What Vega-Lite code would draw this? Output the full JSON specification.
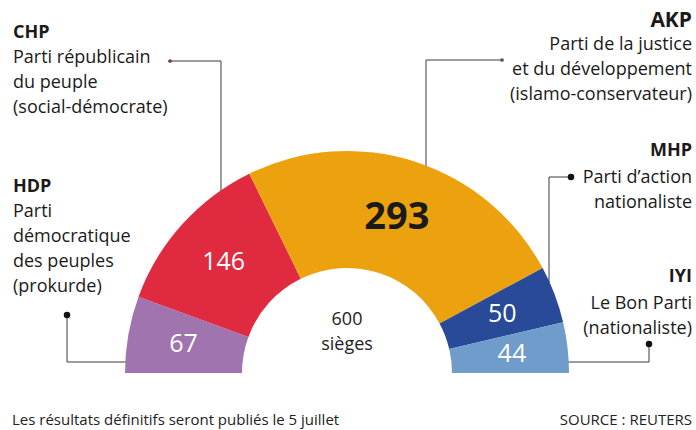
{
  "$schema": "https://vega.github.io/schema/vega-lite/v6.json",
  "width": 696,
  "height": 373,
  "autosize": {"type": "none"},
  "padding": {"left": 0, "top": 0, "right": 0, "bottom": 57},
  "background": "#ffffff",
  "config": {"view": {"stroke": null}, "font": "Open Sans"},
  "datasets": {
    "partis": [
      {"party": "HDP", "seats": 67, "ordre": 1, "nom": "Parti\ndémocratique\ndes peuples\n(prokurde)"},
      {"party": "CHP", "seats": 146, "ordre": 2, "nom": "Parti républicain\ndu peuple\n(social-démocrate)"},
      {"party": "AKP", "seats": 293, "ordre": 3, "nom": "Parti de la justice\net du développement\n(islamo-conservateur)"},
      {"party": "MHP", "seats": 50, "ordre": 4, "nom": "Parti d’action\nnationaliste"},
      {"party": "IYI", "seats": 44, "ordre": 5, "nom": "Le Bon Parti\n(nationaliste)"}
    ],
    "reperes": [
      {"party": "HDP", "etape": 0}, {"party": "HDP", "etape": 1}, {"party": "HDP", "etape": 2},
      {"party": "CHP", "etape": 0}, {"party": "CHP", "etape": 1}, {"party": "CHP", "etape": 2},
      {"party": "AKP", "etape": 0}, {"party": "AKP", "etape": 1}, {"party": "AKP", "etape": 2},
      {"party": "MHP", "etape": 0}, {"party": "MHP", "etape": 1}, {"party": "MHP", "etape": 2},
      {"party": "IYI", "etape": 0}, {"party": "IYI", "etape": 1}, {"party": "IYI", "etape": 2}
    ]
  },
  "resolve": {"scale": {"x": "independent", "y": "independent"}},
  "layer": [
    {
      "data": {"name": "reperes"},
      "transform": [{"filter": "datum.party === 'CHP'"}],
      "encoding": {
        "x": {"field": "etape", "type": "quantitative", "axis": null, "scale": {"domain": [0, 1, 2], "range": [170, 221, 221], "nice": false, "zero": false}},
        "y": {"field": "etape", "type": "quantitative", "axis": null, "scale": {"domain": [0, 1, 2], "range": [61, 61, 195], "nice": false, "zero": false}}
      },
      "layer": [
        {"mark": {"type": "line", "color": "#3a3a3a", "strokeWidth": 1}, "encoding": {"order": {"field": "etape", "type": "quantitative"}}},
        {"transform": [{"filter": "datum.etape === 0"}], "mark": {"type": "point", "filled": true, "color": "#6a3a3f", "size": 14, "opacity": 1}}
      ]
    },
    {
      "data": {"name": "reperes"},
      "transform": [{"filter": "datum.party === 'AKP'"}],
      "encoding": {
        "x": {"field": "etape", "type": "quantitative", "axis": null, "scale": {"domain": [0, 1, 2], "range": [502, 426, 426], "nice": false, "zero": false}},
        "y": {"field": "etape", "type": "quantitative", "axis": null, "scale": {"domain": [0, 1, 2], "range": [60, 60, 170], "nice": false, "zero": false}}
      },
      "layer": [
        {"mark": {"type": "line", "color": "#3a3a3a", "strokeWidth": 1}, "encoding": {"order": {"field": "etape", "type": "quantitative"}}},
        {"transform": [{"filter": "datum.etape === 0"}], "mark": {"type": "point", "filled": true, "color": "#555555", "size": 14, "opacity": 1}}
      ]
    },
    {
      "data": {"name": "reperes"},
      "transform": [{"filter": "datum.party === 'MHP'"}],
      "encoding": {
        "x": {"field": "etape", "type": "quantitative", "axis": null, "scale": {"domain": [0, 1, 2], "range": [571, 549, 549], "nice": false, "zero": false}},
        "y": {"field": "etape", "type": "quantitative", "axis": null, "scale": {"domain": [0, 1, 2], "range": [177, 177, 285], "nice": false, "zero": false}}
      },
      "layer": [
        {"mark": {"type": "line", "color": "#3a3a3a", "strokeWidth": 1}, "encoding": {"order": {"field": "etape", "type": "quantitative"}}},
        {"transform": [{"filter": "datum.etape === 0"}], "mark": {"type": "point", "filled": true, "color": "#111111", "size": 42, "opacity": 1}}
      ]
    },
    {
      "data": {"name": "reperes"},
      "transform": [{"filter": "datum.party === 'HDP'"}],
      "encoding": {
        "x": {"field": "etape", "type": "quantitative", "axis": null, "scale": {"domain": [0, 1, 2], "range": [67, 67, 130], "nice": false, "zero": false}},
        "y": {"field": "etape", "type": "quantitative", "axis": null, "scale": {"domain": [0, 1, 2], "range": [315, 362, 362], "nice": false, "zero": false}}
      },
      "layer": [
        {"mark": {"type": "line", "color": "#3a3a3a", "strokeWidth": 1}, "encoding": {"order": {"field": "etape", "type": "quantitative"}}},
        {"transform": [{"filter": "datum.etape === 0"}], "mark": {"type": "point", "filled": true, "color": "#111111", "size": 42, "opacity": 1}}
      ]
    },
    {
      "data": {"name": "reperes"},
      "transform": [{"filter": "datum.party === 'IYI'"}],
      "encoding": {
        "x": {"field": "etape", "type": "quantitative", "axis": null, "scale": {"domain": [0, 1, 2], "range": [649, 649, 563], "nice": false, "zero": false}},
        "y": {"field": "etape", "type": "quantitative", "axis": null, "scale": {"domain": [0, 1, 2], "range": [344, 362, 362], "nice": false, "zero": false}}
      },
      "layer": [
        {"mark": {"type": "line", "color": "#3a3a3a", "strokeWidth": 1}, "encoding": {"order": {"field": "etape", "type": "quantitative"}}},
        {"transform": [{"filter": "datum.etape === 0"}], "mark": {"type": "point", "filled": true, "color": "#111111", "size": 42, "opacity": 1}}
      ]
    },
    {
      "data": {"name": "partis"},
      "mark": {"type": "arc", "radius": 222, "radius2": 105, "x": {"expr": "width / 2 - 1"}, "y": {"expr": "height"}},
      "encoding": {
        "theta": {"field": "seats", "type": "quantitative", "stack": true, "scale": {"range": [-1.5707963, 1.5707963]}},
        "order": {"field": "ordre", "type": "quantitative", "sort": "ascending"},
        "color": {"field": "party", "type": "nominal", "legend": null, "scale": {"domain": ["HDP", "CHP", "AKP", "MHP", "IYI"], "range": ["#a074ae", "#e02a40", "#eba20e", "#284a98", "#709ccc"]}}
      }
    },
    {
      "data": {"name": "partis"},
      "mark": {"type": "text", "radius": 166, "x": {"expr": "width / 2 - 1"}, "y": {"expr": "height"}, "font": "Open Sans", "fontSize": 25, "color": "#ffffff", "align": "center", "baseline": "middle"},
      "encoding": {
        "theta": {"field": "seats", "type": "quantitative", "stack": true},
        "order": {"field": "ordre", "type": "quantitative", "sort": "ascending"},
        "detail": {"field": "party", "type": "nominal"},
        "text": {"field": "seats", "type": "quantitative"},
        "opacity": {"condition": {"test": "datum.party === 'AKP'", "value": 0}, "value": 1}
      }
    },
    {
      "data": {"name": "partis"},
      "mark": {"type": "text", "radius": 163, "x": {"expr": "width / 2 - 1"}, "y": {"expr": "height"}, "font": "Open Sans", "fontSize": 38, "fontWeight": "bold", "color": "#1a1a1a", "align": "center", "baseline": "middle"},
      "encoding": {
        "theta": {"field": "seats", "type": "quantitative", "stack": true},
        "order": {"field": "ordre", "type": "quantitative", "sort": "ascending"},
        "detail": {"field": "party", "type": "nominal"},
        "text": {"field": "seats", "type": "quantitative"},
        "opacity": {"condition": {"test": "datum.party === 'AKP'", "value": 1}, "value": 0}
      }
    },
    {
      "data": {"name": "partis"},
      "transform": [{"aggregate": [{"op": "sum", "field": "seats", "as": "total"}]}],
      "layer": [
        {
          "mark": {"type": "text", "x": {"expr": "width / 2 - 1"}, "y": {"expr": "height - 53"}, "font": "Open Sans", "fontSize": 18, "color": "#222222", "align": "center", "baseline": "middle"},
          "encoding": {"text": {"field": "total", "type": "quantitative"}}
        },
        {
          "mark": {"type": "text", "x": {"expr": "width / 2 - 1"}, "y": {"expr": "height - 28"}, "font": "Open Sans", "fontSize": 18, "color": "#222222", "align": "center", "baseline": "middle"},
          "encoding": {"text": {"value": "sièges"}}
        }
      ]
    },
    {
      "data": {"name": "partis"},
      "transform": [{"filter": "datum.ordre <= 2"}],
      "mark": {"type": "text", "font": "Open Sans", "fontSize": 18, "fontWeight": "bold", "color": "#1a1a1a", "align": "left", "baseline": "alphabetic"},
      "encoding": {
        "x": {"field": "ordre", "type": "quantitative", "axis": null, "scale": {"domain": [1, 2], "range": [13, 13], "nice": false, "zero": false}},
        "y": {"field": "ordre", "type": "quantitative", "axis": null, "scale": {"domain": [1, 2], "range": [192, 38], "nice": false, "zero": false}},
        "text": {"field": "party", "type": "nominal"}
      }
    },
    {
      "data": {"name": "partis"},
      "transform": [{"filter": "datum.ordre <= 2"}],
      "mark": {"type": "text", "font": "Open Sans", "fontSize": 18, "color": "#1a1a1a", "align": "left", "baseline": "alphabetic", "lineBreak": "\n", "lineHeight": 25},
      "encoding": {
        "x": {"field": "ordre", "type": "quantitative", "axis": null, "scale": {"domain": [1, 2], "range": [13, 13], "nice": false, "zero": false}},
        "y": {"field": "ordre", "type": "quantitative", "axis": null, "scale": {"domain": [1, 2], "range": [217, 63], "nice": false, "zero": false}},
        "text": {"field": "nom", "type": "nominal"}
      }
    },
    {
      "data": {"name": "partis"},
      "transform": [{"filter": "datum.ordre >= 3"}],
      "mark": {"type": "text", "font": "Open Sans", "fontWeight": "bold", "color": "#1a1a1a", "align": "right", "baseline": "alphabetic"},
      "encoding": {
        "x": {"field": "ordre", "type": "quantitative", "axis": null, "scale": {"domain": [3, 5], "range": [692, 692], "nice": false, "zero": false}},
        "y": {"field": "ordre", "type": "quantitative", "axis": null, "scale": {"domain": [3, 4, 5], "range": [27, 156, 282], "nice": false, "zero": false}},
        "text": {"field": "party", "type": "nominal"},
        "size": {"condition": {"test": "datum.party === 'AKP'", "value": 21}, "value": 18}
      }
    },
    {
      "data": {"name": "partis"},
      "transform": [{"filter": "datum.ordre >= 3"}],
      "mark": {"type": "text", "font": "Open Sans", "fontSize": 18, "color": "#1a1a1a", "align": "right", "baseline": "alphabetic", "lineBreak": "\n", "lineHeight": 25},
      "encoding": {
        "x": {"field": "ordre", "type": "quantitative", "axis": null, "scale": {"domain": [3, 5], "range": [692, 692], "nice": false, "zero": false}},
        "y": {"field": "ordre", "type": "quantitative", "axis": null, "scale": {"domain": [3, 4, 5], "range": [50, 183, 309], "nice": false, "zero": false}},
        "text": {"field": "nom", "type": "nominal"}
      }
    },
    {
      "data": {"values": [{"note": "Les résultats définitifs seront publiés le 5 juillet"}]},
      "mark": {"type": "text", "x": {"expr": "12"}, "y": {"expr": "height + 52"}, "font": "Open Sans", "fontSize": 15, "color": "#222222", "align": "left", "baseline": "alphabetic"},
      "encoding": {"text": {"field": "note", "type": "nominal"}}
    },
    {
      "data": {"values": [{"source": "SOURCE : REUTERS"}]},
      "mark": {"type": "text", "x": {"expr": "width - 4"}, "y": {"expr": "height + 52"}, "font": "Open Sans", "fontSize": 15, "color": "#222222", "align": "right", "baseline": "alphabetic", "letterSpacing": 0.6},
      "encoding": {"text": {"field": "source", "type": "nominal"}}
    }
  ]
}
